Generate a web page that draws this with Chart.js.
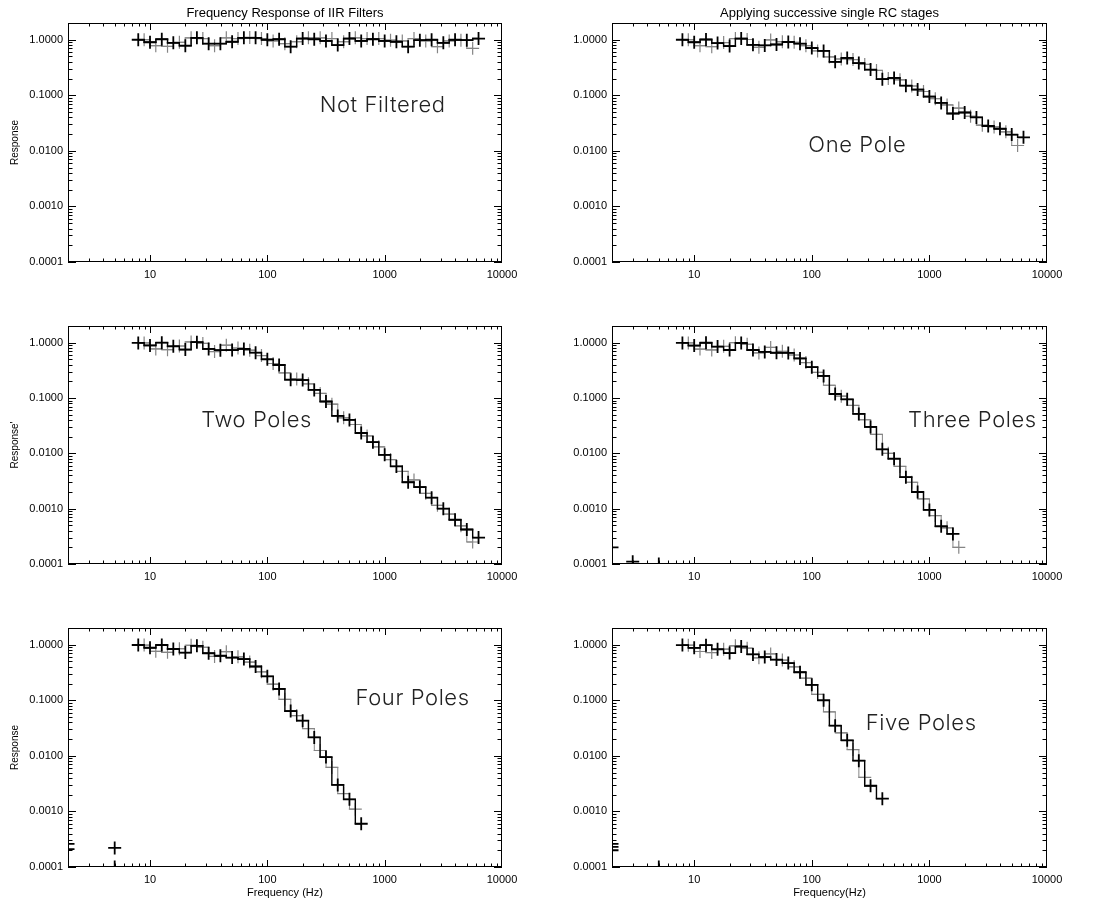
<!DOCTYPE html>
<html>
<head>
<meta charset="utf-8">
<script src="https://cdn.jsdelivr.net/npm/chart.js@4.4.1/dist/chart.umd.min.js"></script>
<style>
  body { margin: 0; background: #fff; }
  #wrap { position: relative; width: 1093px; height: 903px; }
  canvas { position: absolute; }
</style>
</head>
<body>
<div id="wrap">
  <canvas id="p1" width="546" height="300" style="left:0;top:0"></canvas>
  <canvas id="p2" width="547" height="300" style="left:546px;top:0"></canvas>
  <canvas id="p3" width="546" height="300" style="left:0;top:300px"></canvas>
  <canvas id="p4" width="547" height="300" style="left:546px;top:300px"></canvas>
  <canvas id="p5" width="546" height="303" style="left:0;top:600px"></canvas>
  <canvas id="p6" width="547" height="303" style="left:546px;top:600px"></canvas>
</div>
<script>
// two interleaved traces: black bins and grey bins half a bin further on (Hz)
const freqBlack = [7.94, 10.0, 12.6, 15.8, 20.0, 25.1, 31.6, 39.8, 50.1, 63.1, 79.4, 100, 126, 158, 200,
  251, 316, 398, 501, 631, 794, 1000, 1259, 1585, 1995, 2512, 3162, 3981, 5012, 6310];
const freqGrey = [8.91, 11.2, 14.1, 17.8, 22.4, 28.2, 35.5, 44.7, 56.2, 70.8, 89.1, 112, 141, 178, 224,
  282, 355, 447, 562, 708, 891, 1122, 1413, 1778, 2239, 2818, 3548, 4467, 5623];

const notFilteredBlack = [1.00, 0.90, 1.02, 0.88, 0.78, 1.08, 0.85, 0.85, 0.92, 1.08, 1.08, 1.00, 1.02,
  0.75, 1.05, 1.02, 0.95, 0.80, 1.05, 0.95, 1.02, 0.95, 0.92, 0.75, 0.98, 1.00, 0.88, 1.00, 0.98, 1.05];
const notFilteredGrey = [1.00, 0.78, 0.76, 0.90, 1.08, 1.05, 0.78, 1.08, 1.05, 1.10, 1.05, 0.95, 0.85,
  0.92, 1.08, 1.08, 1.05, 0.92, 1.08, 1.05, 1.05, 0.98, 0.95, 1.05, 0.95, 0.75, 0.95, 0.98, 0.70];

const onePoleBlack = [1.00, 0.90, 1.01, 0.87, 0.77, 1.05, 0.81, 0.79, 0.82, 0.91, 0.85, 0.71, 0.63, 0.40,
  0.47, 0.38, 0.29, 0.195, 0.205, 0.149, 0.127, 0.095, 0.073, 0.047, 0.049, 0.040, 0.028, 0.025, 0.0196,
  0.0175];
const onePoleGrey = [1.00, 0.78, 0.75, 0.89, 1.05, 1.01, 0.73, 0.99, 0.92, 0.90, 0.78, 0.63, 0.49, 0.45,
  0.44, 0.36, 0.28, 0.20, 0.19, 0.147, 0.117, 0.087, 0.067, 0.059, 0.042, 0.029, 0.027, 0.022, 0.0125];

const twoPolesBlack = [0.99, 0.89, 1.00, 0.86, 0.75, 1.02, 0.77, 0.73, 0.735, 0.77, 0.66, 0.50, 0.395,
  0.214, 0.211, 0.140, 0.0864, 0.0475, 0.0402, 0.0233, 0.0159, 0.0094, 0.0058, 0.0030, 0.00246, 0.00158,
  0.00100, 0.00063, 0.00042, 0.00030];
const twoPolesGrey = [0.99, 0.77, 0.745, 0.87, 1.03, 0.97, 0.69, 0.90, 0.80, 0.73, 0.585, 0.42, 0.284,
  0.221, 0.180, 0.121, 0.0773, 0.0439, 0.0332, 0.0206, 0.0131, 0.0077, 0.0047, 0.0033, 0.00189, 0.00115,
  0.00080, 0.00049, 0.00025];

const threePolesBlack = [0.99, 0.886, 0.996, 0.848, 0.736, 0.986, 0.737, 0.681, 0.657, 0.653, 0.518,
  0.36, 0.25, 0.118, 0.0945, 0.0516, 0.030, 0.0118, 0.0080, 0.0037, 0.0020, 0.00095, 0.00048, 0.00035];
const threePolesGrey = [0.99, 0.766, 0.738, 0.859, 1.00, 0.936, 0.653, 0.821, 0.696, 0.598, 0.437, 0.29,
  0.17, 0.108, 0.0733, 0.0404, 0.022, 0.0100, 0.0058, 0.0030, 0.0015, 0.00075, 0.00045, 0.00020];

const fourPolesBlack = [0.988, 0.882, 0.988, 0.837, 0.721, 0.956, 0.702, 0.633, 0.587, 0.552, 0.406,
  0.27, 0.16, 0.064, 0.043, 0.0215, 0.0095, 0.0030, 0.00165, 0.00060];
const fourPolesGrey = [0.984, 0.761, 0.731, 0.846, 0.979, 0.901, 0.615, 0.749, 0.606, 0.488, 0.326,
  0.195, 0.104, 0.053, 0.031, 0.0125, 0.0062, 0.0021, 0.0011];

const fivePolesBlack = [0.985, 0.878, 0.980, 0.827, 0.707, 0.927, 0.670, 0.600, 0.540, 0.467, 0.32, 0.19,
  0.10, 0.035, 0.019, 0.0082, 0.0029, 0.0017];
const fivePolesGrey = [0.980, 0.756, 0.723, 0.833, 0.956, 0.867, 0.580, 0.684, 0.529, 0.40, 0.25, 0.128,
  0.062, 0.026, 0.013, 0.0041];

// lone points near the bottom-left corner
const threePolesStrayX = [2, 3, 5];
const threePolesStrayY = [0.0002, 0.00011, 0.0001];
const fourPolesStrayX = [2, 2, 5, 5];
const fourPolesStrayY = [0.00021, 0.00026, 0.00022, 0.0001];
const fivePolesStrayX = [2, 2, 2, 5];
const fivePolesStrayY = [0.0002, 0.00023, 0.00026, 0.0001];

const xTickLabels = [10, 100, 1000, 10000];
const yTickLabels = [0.0001, 0.001, 0.01, 0.1, 1];

Chart.defaults.font.family = '"Liberation Sans", Arial, sans-serif';
Chart.defaults.color = '#000';

// frame round the plot with IDL style inward ticks on all four sides
const frameTicks = {
  id: 'frameTicks',
  afterDatasetsDraw(chart) {
    const {ctx, chartArea: a, scales: {x, y}} = chart;
    ctx.save();
    ctx.strokeStyle = '#000';
    ctx.lineWidth = 1;
    ctx.strokeRect(a.left + 0.5, a.top + 0.5, a.right - a.left - 1, a.bottom - a.top - 1);
    ctx.beginPath();
    for (let d = 1; d <= 1000; d *= 10) {
      for (let m = 1; m <= 9; m++) {
        const v = m * d;
        if (v <= x.min || v >= x.max) continue;
        const px = Math.round(x.getPixelForValue(v)) + 0.5;
        const len = m === 1 ? 7 : 3.5;
        ctx.moveTo(px, a.bottom); ctx.lineTo(px, a.bottom - len);
        ctx.moveTo(px, a.top); ctx.lineTo(px, a.top + len);
      }
    }
    for (let d = 0.0001; d <= 1.5; d *= 10) {
      for (let m = 1; m <= 9; m++) {
        const v = m * d;
        if (v < y.min || v > y.max) continue;
        const py = Math.round(y.getPixelForValue(v)) + 0.5;
        const len = m === 1 ? 8 : 4.5;
        ctx.moveTo(a.left, py); ctx.lineTo(a.left + len, py);
        ctx.moveTo(a.right, py); ctx.lineTo(a.right - len, py);
      }
    }
    ctx.stroke();
    ctx.restore();
  }
};

const panelText = {
  id: 'panelText',
  afterDraw(chart, args, opts) {
    const {ctx, chartArea: a, scales: {x, y}} = chart;
    ctx.save();
    ctx.textAlign = 'center';
    ctx.textBaseline = 'middle';
    if (opts.title) {
      ctx.font = '13px "Liberation Sans", Arial, sans-serif';
      ctx.fillStyle = '#000';
      ctx.fillText(opts.title, (a.left + a.right) / 2, a.top - 10);
    }
    if (opts.label) {
      ctx.font = '300 22px Inter, "Liberation Sans", sans-serif';
      ctx.letterSpacing = '0.6px';
      ctx.fillStyle = '#222';
      ctx.fillText(opts.label, x.getPixelForValue(opts.at[0]), y.getPixelForValue(opts.at[1]));
    }
    ctx.restore();
  }
};

function points(xs, ys) {
  return ys.map((v, i) => ({x: xs[i], y: v}));
}

function trace(data, colour, width, markWidth) {
  return {
    data, showLine: true, stepped: 'middle',
    borderColor: colour, borderWidth: width,
    pointStyle: 'cross', pointRadius: 6.5, pointBorderWidth: markWidth,
    pointBorderColor: colour, pointBackgroundColor: colour
  };
}

function makePanel(p) {
  const datasets = [
    trace(points(freqBlack, p.black), '#000', 1.4, 1.8),
    trace(points(freqGrey, p.grey), '#858585', 1, 1.2)
  ];
  if (p.strayX) {
    datasets.push({
      data: points(p.strayX, p.strayY),
      showLine: false,
      pointStyle: 'cross', pointRadius: 6.5, pointBorderWidth: 1.8,
      pointBorderColor: '#000'
    });
  }
  new Chart(document.getElementById(p.id), {
    type: 'scatter',
    data: {datasets},
    plugins: [frameTicks, panelText],
    options: {
      responsive: false,
      animation: false,
      events: [],
      layout: {padding: {top: p.padTop, right: p.padRight, left: 0, bottom: 0}},
      plugins: {
        legend: {display: false},
        tooltip: {enabled: false},
        panelText: {title: p.title, label: p.label, at: p.at}
      },
      scales: {
        x: {
          type: 'logarithmic', min: 2, max: 10000,
          grid: {display: false, drawTicks: false},
          border: {display: false},
          afterBuildTicks: (s) => { s.ticks = xTickLabels.map(v => ({value: v})); },
          afterFit: (s) => { s.height = p.axisH; },
          ticks: {
            autoSkip: false, maxRotation: 0, padding: 6,
            font: {size: 11},
            callback: (v) => String(v)
          },
          title: {
            display: !!p.xTitle, text: p.xTitle,
            font: {size: 11}, padding: {top: 0, bottom: 3}
          }
        },
        y: {
          type: 'logarithmic', min: 0.0001, max: 2,
          grid: {display: false, drawTicks: false},
          border: {display: false},
          afterBuildTicks: (s) => { s.ticks = yTickLabels.map(v => ({value: v})); },
          afterFit: (s) => { s.width = p.axisW; },
          ticks: {
            autoSkip: false, padding: 5,
            font: {size: 11},
            callback: (v) => Number(v).toFixed(4)
          },
          title: {
            display: !!p.yTitle, text: p.yTitle,
            font: {size: 10}, padding: {top: 9, bottom: 0}
          }
        }
      }
    }
  });
}

const panels = [
  {id: 'p1', black: notFilteredBlack, grey: notFilteredGrey,
   title: 'Frequency Response of IIR Filters', yTitle: 'Response',
   label: 'Not Filtered', at: [961, 0.065], axisW: 68, axisH: 38, padTop: 23, padRight: 44},
  {id: 'p2', black: onePoleBlack, grey: onePoleGrey, title: 'Applying successive single RC stages',
   label: 'One Pole', at: [244, 0.0128], axisW: 66, axisH: 38, padTop: 23, padRight: 46},
  {id: 'p3', black: twoPolesBlack, grey: twoPolesGrey, yTitle: "Response'",
   label: 'Two Poles', at: [81, 0.04], axisW: 68, axisH: 36, padTop: 26, padRight: 44},
  {id: 'p4', black: threePolesBlack, grey: threePolesGrey,
   strayX: threePolesStrayX, strayY: threePolesStrayY,
   label: 'Three Poles', at: [2323, 0.04], axisW: 66, axisH: 36, padTop: 26, padRight: 46},
  {id: 'p5', black: fourPolesBlack, grey: fourPolesGrey,
   strayX: fourPolesStrayX, strayY: fourPolesStrayY, yTitle: 'Response', xTitle: 'Frequency (Hz)',
   label: 'Four Poles', at: [1730, 0.106], axisW: 68, axisH: 36, padTop: 28, padRight: 44},
  {id: 'p6', black: fivePolesBlack, grey: fivePolesGrey,
   strayX: fivePolesStrayX, strayY: fivePolesStrayY, xTitle: 'Frequency(Hz)',
   label: 'Five Poles', at: [852, 0.039], axisW: 66, axisH: 36, padTop: 28, padRight: 46}
];

panels.forEach(makePanel);
</script>
</body>
</html>
